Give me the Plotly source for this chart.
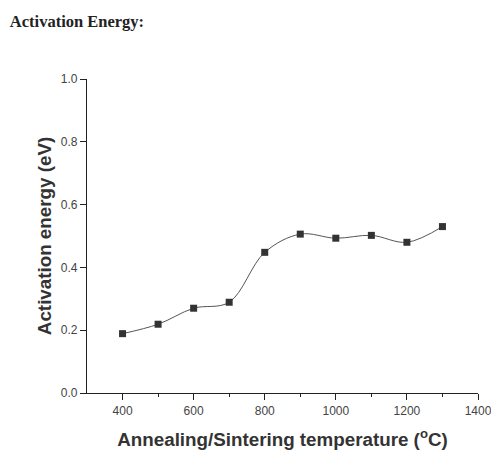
import plotly.graph_objects as go

temperature = [400, 500, 600, 700, 800, 900, 1000, 1100, 1200, 1300]
activation_energy = [0.189, 0.219, 0.270, 0.289, 0.448, 0.506, 0.493, 0.502, 0.480, 0.530]
x_ticks = [400, 600, 800, 1000, 1200, 1400]
x_minor = [500, 700, 900, 1100, 1300]
y_ticks = [0.0, 0.2, 0.4, 0.6, 0.8, 1.0]

fig = go.Figure()
fig.add_trace(go.Scatter(
    x=temperature, y=activation_energy, mode="lines+markers",
    line=dict(shape="spline", smoothing=1.0, color="#555555", width=1),
    marker=dict(symbol="square", size=7, color="#333333"),
    showlegend=False,
))

axis_common = dict(showline=True, linecolor="#222222", linewidth=1.3, ticks="outside",
                   ticklen=6, tickcolor="#222222", showgrid=False, zeroline=False,
                   automargin=False, ticklabeloverflow="allow",
                   tickfont=dict(family="Liberation Sans, Arial", size=12, color="#444444"))

fig.update_xaxes(range=[300, 1400], tickvals=x_ticks, ticktext=[str(v) for v in x_ticks],
                 minor=dict(tickvals=x_minor, ticklen=3, tickcolor="#222222", ticks="outside"),
                 title=dict(text="<b>Annealing/Sintering temperature (<sup>o</sup>C)</b>",
                            font=dict(family="Liberation Sans, Arial", size=18.8, color="#333333"),
                            standoff=16),
                 **axis_common)
fig.update_yaxes(range=[0, 1.0], tickvals=y_ticks, ticktext=["%.1f" % v for v in y_ticks],
                 title=dict(text="<b>Activation energy (eV)</b>",
                            font=dict(family="Liberation Sans, Arial", size=18.8, color="#333333"),
                            standoff=4),
                 **axis_common)

fig.update_layout(
    width=491, height=455,
    margin=dict(l=87, r=13, t=79, b=62),
    paper_bgcolor="white", plot_bgcolor="white",
    title=dict(text="<b>Activation Energy:</b>", x=0.02, xanchor="left", y=0.953, yanchor="middle",
               font=dict(family="Liberation Serif, Times New Roman", size=16.5, color="#222222")),
)

fig.write_html("out.html")
